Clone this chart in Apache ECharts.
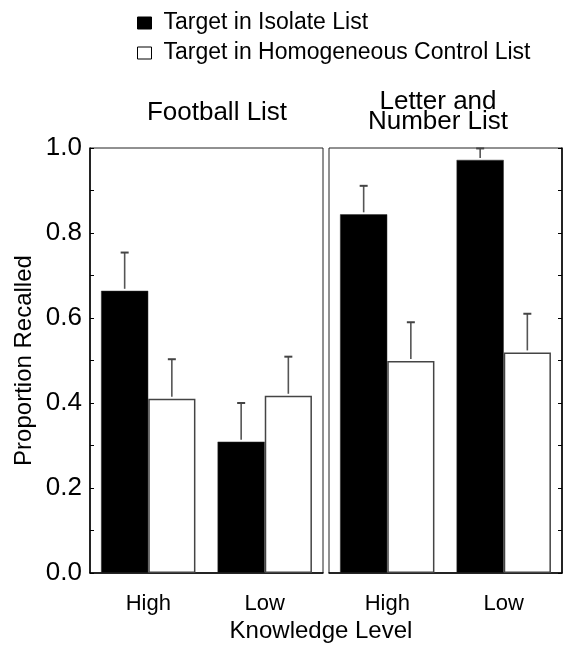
<!DOCTYPE html>
<html>
<head>
<meta charset="utf-8">
<script src="https://cdn.jsdelivr.net/npm/echarts@6/dist/echarts.min.js"></script>
<style>
html,body{margin:0;padding:0;background:#fff;}
#chart{width:563px;height:662px;}
</style>
</head>
<body>
<div id="chart"></div>
<script>
// ---- data ----
const categories = ['High', 'Low'];
const seriesNames = ['Target in Isolate List', 'Target in Homogeneous Control List'];
const panelTitles = ['Football List', 'Letter and\nNumber List'];
const yTicks = [0, 0.2, 0.4, 0.6, 0.8, 1.0];

const footballIsolate = [0.664, 0.309];
const footballControl = [0.410, 0.417];
const footballIsolateErr = [0.090, 0.091];
const footballControlErr = [0.093, 0.092];

const letterIsolate = [0.844, 0.972];
const letterControl = [0.499, 0.519];
const letterIsolateErr = [0.067, 0.027];
const letterControlErr = [0.091, 0.091];

// ---- chart ----
const FONT = '"Liberation Sans", Arial, Helvetica, sans-serif';
const chart = echarts.init(document.getElementById('chart'), null, {renderer: 'canvas'});

const GAP_FRAC = 0.19;

function errData(vals, errs, side) {
  return categories.map((c, i) => [i, vals[i], errs[i], side]);
}

function renderErr(params, api) {
  const ci = api.value(0), v = api.value(1), e = api.value(2), side = api.value(3);
  const base = api.coord([ci, v]);
  const top = api.coord([ci, v + e]);
  const band = api.size([1, 0])[0];
  const x = base[0] + side * band * (1 - GAP_FRAC) / 4;
  const st = {stroke: '#555', lineWidth: 1.6};
  return {
    type: 'group',
    children: [
      {type: 'line', shape: {x1: x, y1: base[1] - 2, x2: x, y2: top[1]}, style: st},
      {type: 'line', shape: {x1: x - 4, y1: top[1], x2: x + 4, y2: top[1]}, style: {stroke: '#444', lineWidth: 2}}
    ]
  };
}

const grids = [
  {left: 90, top: 148, width: 233, height: 425},
  {left: 329, top: 148, width: 233, height: 425}
];

function yAxisFor(idx) {
  return {
    type: 'value', gridIndex: idx, min: 0, max: 1, interval: 0.2,
    position: idx === 0 ? 'left' : 'right',
    axisLine: {show: true, lineStyle: {color: '#000', width: 1.5}},
    axisTick: {show: true, inside: true, length: 4, lineStyle: {color: '#000', width: 1}},
    minorTick: {show: true, splitNumber: 2, length: 4, lineStyle: {color: '#000', width: 1}},
    splitLine: {show: false},
    axisLabel: {
      show: idx === 0, margin: 8, fontSize: 26, color: '#000', fontFamily: FONT,
      formatter: v => v.toFixed(1)
    },
    name: idx === 0 ? 'Proportion Recalled' : '',
    nameLocation: 'middle', nameGap: 54,
    nameTextStyle: {fontSize: 24, color: '#000', fontFamily: FONT}
  };
}

function xAxisFor(idx) {
  return {
    type: 'category', gridIndex: idx, data: categories,
    axisLine: {show: true, lineStyle: {color: '#000', width: 1.5}},
    axisTick: {show: false},
    axisLabel: {margin: 20, fontSize: 22, color: '#000', fontFamily: FONT}
  };
}

function barSeries(name, data, idx, isIsolate) {
  return {
    type: 'bar', name: name, xAxisIndex: idx, yAxisIndex: idx, data: data,
    barGap: '0%', barCategoryGap: (GAP_FRAC * 100) + '%',
    itemStyle: isIsolate
      ? {color: '#000', borderColor: '#333', borderWidth: 0.5}
      : {color: '#fff', borderColor: '#444', borderWidth: 1.5},
    emphasis: {disabled: true},
    animation: false
  };
}

function errSeries(data, idx) {
  return {
    type: 'custom', xAxisIndex: idx, yAxisIndex: idx, data: data,
    renderItem: renderErr, clip: false, z: 5, animation: false, silent: true
  };
}

const option = {
  backgroundColor: '#fff',
  animation: false,
  textStyle: {fontFamily: FONT},
  grid: grids.map(g => Object.assign({show: true, borderColor: '#222', borderWidth: 1, containLabel: false}, g)),
  legend: {
    orient: 'vertical', left: 137, top: 8, itemGap: 0, padding: 0,
    itemWidth: 14, itemHeight: 12, icon: 'rect',
    selectedMode: false,
    textStyle: {fontSize: 23, color: '#000', fontFamily: FONT, lineHeight: 30, padding: [0, 0, 0, 7]},
    data: [
      {name: seriesNames[0], itemStyle: {color: '#000', borderColor: '#000', borderWidth: 1}},
      {name: seriesNames[1], itemStyle: {color: '#fff', borderColor: '#000', borderWidth: 1}}
    ]
  },
  title: [
    {text: panelTitles[0], left: 217, top: 100, textAlign: 'center', padding: 0,
     textStyle: {fontSize: 26, fontWeight: 'normal', color: '#000', fontFamily: FONT}},
    {text: panelTitles[1], left: 438, top: 92, textAlign: 'center', padding: 0,
     textStyle: {fontSize: 26, fontWeight: 'normal', color: '#000', fontFamily: FONT, lineHeight: 20}}
  ],
  graphic: [
    {type: 'text', x: 321, y: 631,
     style: {text: 'Knowledge Level', fontSize: 24, fill: '#000', fontFamily: FONT,
             align: 'center', verticalAlign: 'middle'}}
  ],
  xAxis: [xAxisFor(0), xAxisFor(1)],
  yAxis: [yAxisFor(0), yAxisFor(1)],
  series: [
    barSeries(seriesNames[0], footballIsolate, 0, true),
    barSeries(seriesNames[1], footballControl, 0, false),
    barSeries(seriesNames[0], letterIsolate, 1, true),
    barSeries(seriesNames[1], letterControl, 1, false),
    errSeries(errData(footballIsolate, footballIsolateErr, -1), 0),
    errSeries(errData(footballControl, footballControlErr, 1), 0),
    errSeries(errData(letterIsolate, letterIsolateErr, -1), 1),
    errSeries(errData(letterControl, letterControlErr, 1), 1)
  ]
};
chart.setOption(option);
</script>
</body>
</html>
